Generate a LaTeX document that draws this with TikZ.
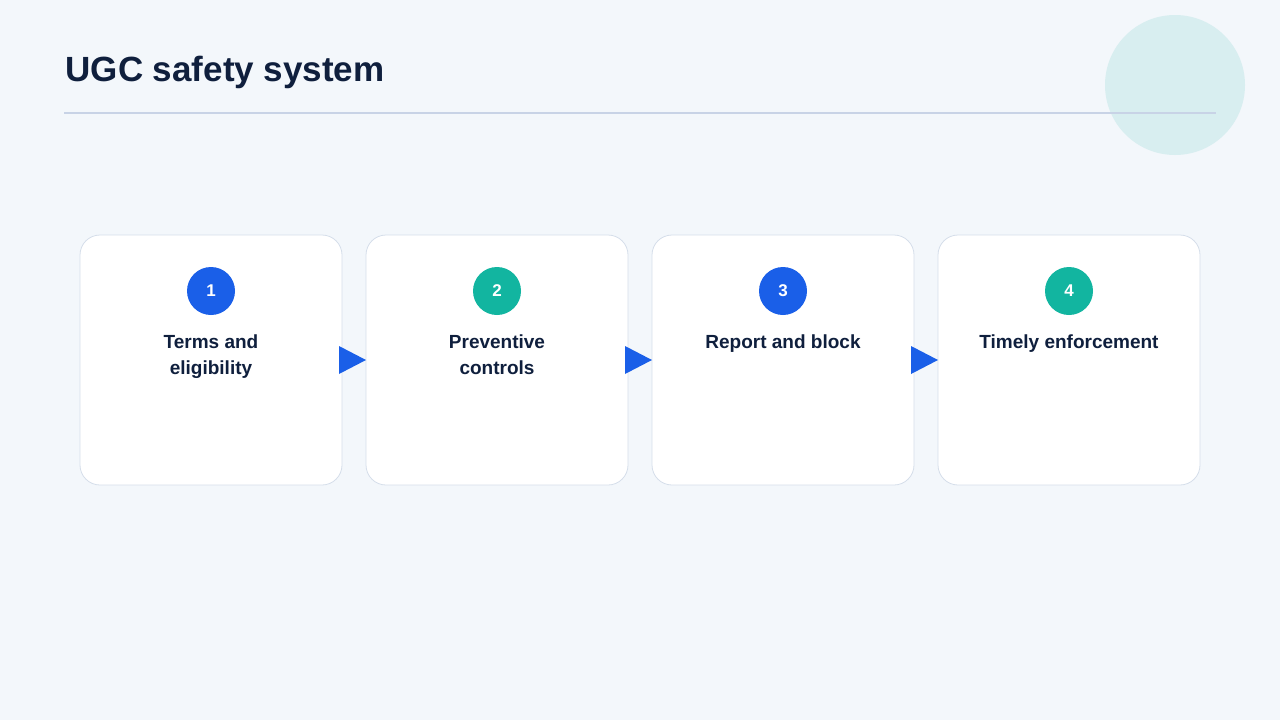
\documentclass[tikz,border=0pt]{standalone}
\usepackage{fontspec}
\setmainfont{Liberation Sans}
\definecolor{bg}{HTML}{F3F7FB}
\definecolor{ink}{HTML}{0F1F3D}
\definecolor{rule}{HTML}{C8D3E6}
\definecolor{deco}{HTML}{D8EEF0}
\definecolor{cardline}{HTML}{D5DEEA}
\definecolor{blu}{HTML}{1A5FE8}
\definecolor{tea}{HTML}{12B5A0}
\begin{document}
\begin{tikzpicture}[x=1pt,y=-1pt,
  card/.style={draw=cardline,line width=0.8pt,fill=white,rounded corners=20pt},
  num/.style={circle,minimum size=48pt,inner sep=0pt,text=white,font=\bfseries\fontsize{17}{20}\selectfont},
  lab/.style={text=ink,font=\bfseries\fontsize{19}{26}\selectfont,align=center,anchor=north},
  tri/.style={fill=blu}]
\fill[bg] (0,0) rectangle (1280,720);
\useasboundingbox (0,0) rectangle (1280,720);
\fill[deco] (1175,85) circle (70);
\node[anchor=west,text=ink,font=\bfseries\fontsize{35}{40}\selectfont] (title) at (62,72) {UGC safety system};
\draw[rule,line width=1.2pt] (64,113) -- (1216,113);
\foreach \i/\x/\c/\t in {1/80/blu/{Terms and\\eligibility},2/366/tea/{Preventive\\controls},3/652/blu/{Report and block},4/938/tea/{Timely enforcement}}{
  \draw[card] (\x,235) rectangle ++(262,250);
  \node[num,fill=\c] (n\i) at (\x+131,291) {\i};
  \node[lab] (l\i) at (\x+131,331) {\t};
}
\foreach \x in {339,625,911}{
  \fill[blu] (\x,346) -- (\x+27,360) -- (\x,374) -- cycle;
}
\end{tikzpicture}
\end{document}
